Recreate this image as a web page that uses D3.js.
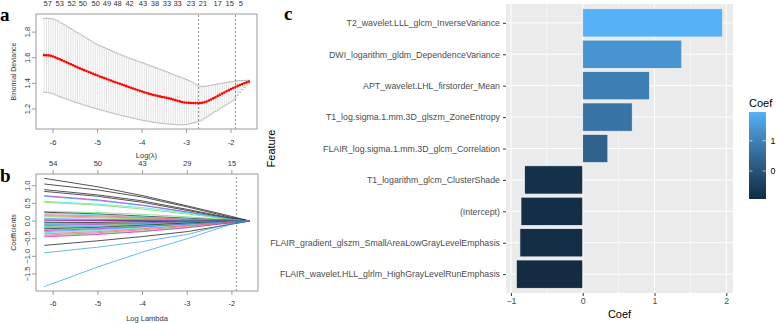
<!DOCTYPE html>
<html>
<head>
<meta charset="utf-8">
<script src="https://cdn.jsdelivr.net/npm/d3@7"></script>
<style>
  body { margin: 0; background: #fff; }
  svg { display: block; font-family: "Liberation Sans", Arial, sans-serif; }
</style>
</head>
<body>
<div id="chart"></div>
<script>
// ---- panel a : cross-validation curve ----
var logLambdaA = [-6.20, -6.15, -6.10, -6.05, -6.00, -5.95, -5.90, -5.85, -5.80, -5.75,
  -5.70, -5.65, -5.60, -5.55, -5.50, -5.45, -5.40, -5.35, -5.30, -5.25,
  -5.20, -5.15, -5.10, -5.05, -5.00, -4.95, -4.90, -4.85, -4.80, -4.75,
  -4.70, -4.65, -4.60, -4.55, -4.50, -4.45, -4.40, -4.35, -4.30, -4.25,
  -4.20, -4.15, -4.10, -4.05, -4.00, -3.95, -3.90, -3.85, -3.80, -3.75,
  -3.70, -3.65, -3.60, -3.55, -3.50, -3.45, -3.40, -3.35, -3.30, -3.25,
  -3.20, -3.15, -3.10, -3.05, -3.00, -2.95, -2.90, -2.85, -2.80, -2.75,
  -2.70, -2.65, -2.60, -2.55, -2.50, -2.45, -2.40, -2.35, -2.30, -2.25,
  -2.20, -2.15, -2.10, -2.05, -2.00, -1.95, -1.90, -1.85, -1.80, -1.75,
  -1.70, -1.65, -1.60];
var cvMean = [1.620, 1.620, 1.618, 1.615, 1.610, 1.603, 1.595, 1.588, 1.580, 1.572,
  1.565, 1.557, 1.549, 1.541, 1.533, 1.525, 1.518, 1.510, 1.503, 1.496,
  1.489, 1.482, 1.475, 1.468, 1.461, 1.454, 1.448, 1.441, 1.435, 1.428,
  1.422, 1.415, 1.409, 1.403, 1.397, 1.391, 1.385, 1.378, 1.372, 1.366,
  1.360, 1.354, 1.348, 1.342, 1.336, 1.330, 1.325, 1.320, 1.315, 1.310,
  1.306, 1.302, 1.298, 1.294, 1.291, 1.287, 1.283, 1.279, 1.274, 1.269,
  1.264, 1.259, 1.254, 1.251, 1.249, 1.248, 1.247, 1.247, 1.246, 1.246,
  1.246, 1.248, 1.252, 1.258, 1.266, 1.274, 1.283, 1.292, 1.302, 1.311,
  1.320, 1.329, 1.338, 1.347, 1.356, 1.364, 1.372, 1.380, 1.387, 1.394,
  1.401, 1.408, 1.415];
var cvUpper = [1.908, 1.908, 1.907, 1.905, 1.903, 1.896, 1.888, 1.878, 1.868, 1.858,
  1.848, 1.838, 1.827, 1.817, 1.806, 1.796, 1.785, 1.775, 1.764, 1.754,
  1.743, 1.733, 1.722, 1.712, 1.702, 1.694, 1.686, 1.679, 1.671, 1.664,
  1.656, 1.649, 1.641, 1.634, 1.627, 1.620, 1.613, 1.606, 1.599, 1.592,
  1.586, 1.580, 1.574, 1.568, 1.562, 1.556, 1.549, 1.543, 1.536, 1.530,
  1.523, 1.517, 1.510, 1.504, 1.497, 1.491, 1.484, 1.477, 1.470, 1.463,
  1.456, 1.450, 1.443, 1.437, 1.430, 1.422, 1.414, 1.405, 1.395, 1.386,
  1.378, 1.376, 1.376, 1.378, 1.381, 1.384, 1.388, 1.392, 1.395, 1.398,
  1.401, 1.404, 1.407, 1.410, 1.412, 1.415, 1.418, 1.420, 1.421, 1.422,
  1.423, 1.424, 1.425];
var cvLower = [1.331, 1.330, 1.327, 1.323, 1.318, 1.310, 1.303, 1.296, 1.290, 1.283,
  1.277, 1.271, 1.265, 1.259, 1.253, 1.247, 1.242, 1.236, 1.230, 1.225,
  1.220, 1.214, 1.209, 1.204, 1.199, 1.194, 1.190, 1.185, 1.180, 1.175,
  1.171, 1.166, 1.162, 1.157, 1.153, 1.148, 1.144, 1.140, 1.136, 1.132,
  1.128, 1.124, 1.120, 1.116, 1.112, 1.109, 1.106, 1.103, 1.100, 1.097,
  1.095, 1.092, 1.090, 1.088, 1.086, 1.084, 1.083, 1.081, 1.080, 1.079,
  1.078, 1.077, 1.077, 1.078, 1.079, 1.082, 1.086, 1.090, 1.095, 1.100,
  1.106, 1.114, 1.124, 1.135, 1.146, 1.158, 1.169, 1.180, 1.190, 1.201,
  1.212, 1.223, 1.234, 1.245, 1.255, 1.268, 1.285, 1.307, 1.330, 1.351,
  1.370, 1.385, 1.398];
var nzeroPos = [-6.12, -5.85, -5.58, -5.33, -5.04, -4.79, -4.55, -4.28, -3.98, -3.71, -3.44, -3.2, -2.9, -2.63, -2.3, -2.03, -1.78];
var nzeroLabels = ["57", "53", "52", "50", "50", "49", "48", "42", "43", "38", "33", "33", "23", "21", "17", "15", "5"];
var lambdaMin = -2.73;
var lambda1se = -1.9;

// ---- panel b : coefficient paths ----
var pathLambda = [-6.2, -5, -4, -3, -2, -1.6];
var coefPaths = [
  [1.21, 0.97, 0.72, 0.43, 0.13, 0],
  [1.05, 0.88, 0.68, 0.40, 0.10, 0],
  [0.89, 0.74, 0.57, 0.33, 0.08, 0],
  [0.84, 0.70, 0.53, 0.30, 0.06, 0],
  [0.72, 0.60, 0.45, 0.26, 0.05, 0],
  [0.70, 0.58, 0.44, 0.25, 0.05, 0],
  [0.56, 0.48, 0.38, 0.23, 0.05, 0],
  [0.53, 0.45, 0.34, 0.20, 0.04, 0],
  [0.27, 0.24, 0.19, 0.12, 0.03, 0],
  [0.25, 0.20, 0.14, 0.08, 0.02, 0],
  [0.22, 0.18, 0.12, 0.06, 0.01, 0],
  [0.18, 0.15, 0.10, 0.05, 0.01, 0],
  [0.15, 0.12, 0.08, 0.04, 0.01, 0],
  [0.12, 0.09, 0.06, 0.03, 0, 0],
  [0.07, 0.05, 0.03, 0.01, 0, 0],
  [0.03, 0.02, 0.01, 0, 0, 0],
  [0.0, 0.02, 0.03, 0.02, 0, 0],
  [-0.03, -0.02, -0.01, 0, 0, 0],
  [-0.05, -0.04, -0.02, -0.01, 0, 0],
  [-0.08, -0.07, -0.05, -0.02, 0, 0],
  [-0.10, -0.08, -0.05, -0.02, 0, 0],
  [-0.13, -0.10, -0.07, -0.03, -0.01, 0],
  [-0.16, -0.12, -0.08, -0.04, -0.01, 0],
  [-0.18, -0.15, -0.10, -0.05, -0.01, 0],
  [-0.20, -0.16, -0.11, -0.06, -0.01, 0],
  [-0.22, -0.18, -0.12, -0.06, -0.01, 0],
  [-0.25, -0.20, -0.14, -0.08, -0.02, 0],
  [-0.27, -0.22, -0.16, -0.09, -0.02, 0],
  [-0.30, -0.24, -0.17, -0.09, -0.02, 0],
  [-0.33, -0.27, -0.20, -0.12, -0.03, 0],
  [-0.36, -0.30, -0.22, -0.13, -0.03, 0],
  [-0.40, -0.33, -0.25, -0.15, -0.04, 0],
  [-0.42, -0.36, -0.28, -0.18, -0.05, 0],
  [-0.45, -0.38, -0.30, -0.19, -0.05, 0],
  [-0.69, -0.56, -0.44, -0.30, -0.09, 0],
  [-0.90, -0.74, -0.58, -0.38, -0.06, 0],
  [-1.86, -1.30, -0.88, -0.50, -0.08, 0]
];
var pathColors = ["#000000", "#000000", "#000000", "#000000", "#CD0BBC", "#2297E6", "#28E2E5", "#61D04F",
  "#61D04F", "#000000", "#28E2E5", "#DF536B", "#DF536B", "#61D04F", "#2297E6", "#000000", "#CD0BBC",
  "#28E2E5", "#000000", "#DF536B", "#2297E6", "#CD0BBC", "#61D04F", "#2297E6", "#28E2E5", "#000000",
  "#61D04F", "#CD0BBC", "#2297E6", "#28E2E5", "#DF536B", "#DF536B", "#61D04F", "#CD0BBC", "#000000",
  "#2297E6", "#2297E6"];
var dfTicks = [-6, -5, -4, -3, -2];
var dfLabels = ["54", "50", "43", "29", "15"];

// ---- panel c : selected features ----
var features = ["T2_wavelet.LLL_glcm_InverseVariance", "DWI_logarithm_gldm_DependenceVariance",
  "APT_wavelet.LHL_firstorder_Mean", "T1_log.sigma.1.mm.3D_glszm_ZoneEntropy",
  "FLAIR_log.sigma.1.mm.3D_glcm_Correlation", "T1_logarithm_glcm_ClusterShade", "(Intercept)",
  "FLAIR_gradient_glszm_SmallAreaLowGrayLevelEmphasis", "FLAIR_wavelet.HLL_glrlm_HighGrayLevelRunEmphasis"];
var coefs = [1.95, 1.38, 0.93, 0.69, 0.35, -0.81, -0.86, -0.875, -0.925];

var svg = d3.select("#chart").append("svg")
  .attr("width", 777)
  .attr("height", 323);

var boxCol = "#9a9a9a", txtCol = "#333";

// R style panel helpers
function rBox(x, y) {
  svg.append("rect")
    .attr("x", x.range()[0]).attr("y", y.range()[1])
    .attr("width", x.range()[1] - x.range()[0])
    .attr("height", y.range()[0] - y.range()[1])
    .attr("fill", "none").attr("stroke", boxCol).attr("stroke-width", 1);
}
function rBottomAxis(x, y, ticks, labelY) {
  var b = y.range()[0];
  ticks.forEach(function(t) {
    svg.append("line").attr("x1", x(t)).attr("x2", x(t)).attr("y1", b).attr("y2", b + 4)
      .attr("stroke", boxCol);
    svg.append("text").attr("x", x(t)).attr("y", labelY).attr("text-anchor", "middle")
      .attr("font-size", 7.5).attr("fill", txtCol).text(t);
  });
}
function rLeftAxis(x, y, ticks, fmt) {
  var l = x.range()[0];
  ticks.forEach(function(t) {
    svg.append("line").attr("x1", l - 4).attr("x2", l).attr("y1", y(t)).attr("y2", y(t))
      .attr("stroke", boxCol);
    svg.append("text").attr("transform", "translate(30," + y(t) + ") rotate(-90)")
      .attr("text-anchor", "middle").attr("font-size", 7.5).attr("fill", txtCol).text(fmt(t));
  });
}
function padExtent(vals) {
  var e = d3.extent(vals), p = (e[1] - e[0]) * 0.04;
  return [e[0] - p, e[1] + p];
}

// ================= panel a =================
var xA = d3.scaleLinear().domain(padExtent(logLambdaA)).range([36, 257]);
var yA = d3.scaleLinear().domain(padExtent(cvLower.concat(cvUpper))).range([129, 14]);

var gA = svg.append("g");
logLambdaA.forEach(function(l, i) {
  gA.append("line").attr("x1", xA(l)).attr("x2", xA(l))
    .attr("y1", yA(cvLower[i])).attr("y2", yA(cvUpper[i]))
    .attr("stroke", "#cfcfcf").attr("stroke-width", 0.6);
  [cvLower[i], cvUpper[i]].forEach(function(v) {
    gA.append("line").attr("x1", xA(l) - 1.3).attr("x2", xA(l) + 1.3)
      .attr("y1", yA(v)).attr("y2", yA(v))
      .attr("stroke", "#b5b5b5").attr("stroke-width", 0.9);
  });
});
gA.selectAll("circle").data(logLambdaA).enter().append("circle")
  .attr("cx", function(d) { return xA(d); })
  .attr("cy", function(d, i) { return yA(cvMean[i]); })
  .attr("r", 1.3).attr("fill", "#ff0000");
[lambdaMin, lambda1se].forEach(function(l) {
  gA.append("line").attr("x1", xA(l)).attr("x2", xA(l))
    .attr("y1", yA.range()[0]).attr("y2", yA.range()[1])
    .attr("stroke", "#444").attr("stroke-width", 0.6).attr("stroke-dasharray", "2,2");
});
rBox(xA, yA);
rBottomAxis(xA, yA, [-6, -5, -4, -3, -2], 145);
rLeftAxis(xA, yA, [1.2, 1.4, 1.6, 1.8], d3.format(".1f"));
nzeroPos.forEach(function(p, i) {
  svg.append("text").attr("x", xA(p)).attr("y", 6).attr("text-anchor", "middle")
    .attr("font-size", 7.5).attr("fill", txtCol).text(nzeroLabels[i]);
});
svg.append("text").attr("x", 146.5).attr("y", 157.5).attr("text-anchor", "middle")
  .attr("font-size", 7.5).attr("fill", txtCol).text("Log(\u03BB)");
svg.append("text").attr("transform", "translate(15.5,71.5) rotate(-90)").attr("text-anchor", "middle")
  .attr("font-size", 7).attr("fill", txtCol).text("Binomial Deviance");

// ================= panel b =================
var xB = d3.scaleLinear().domain(padExtent(pathLambda)).range([36, 258]);
var yB = d3.scaleLinear().domain(padExtent(d3.merge(coefPaths))).range([291, 174]);
var lineB = d3.line()
  .x(function(d, i) { return xB(pathLambda[i]); })
  .y(function(d) { return yB(d); });
svg.append("g").selectAll("path").data(coefPaths).enter().append("path")
  .attr("d", lineB)
  .attr("fill", "none")
  .attr("stroke", function(d, i) { return pathColors[i]; })
  .attr("stroke-width", 0.8)
  .attr("stroke-opacity", 0.85);
svg.append("line").attr("x1", xB(lambda1se)).attr("x2", xB(lambda1se))
  .attr("y1", yB.range()[0]).attr("y2", yB.range()[1])
  .attr("stroke", "#444").attr("stroke-width", 0.6).attr("stroke-dasharray", "2,2");
rBox(xB, yB);
rBottomAxis(xB, yB, [-6, -5, -4, -3, -2], 306);
rLeftAxis(xB, yB, [-1.5, -1.0, -0.5, 0.0, 0.5, 1.0], d3.format(".1f"));
dfTicks.forEach(function(t, i) {
  svg.append("line").attr("x1", xB(t)).attr("x2", xB(t)).attr("y1", 174).attr("y2", 170)
    .attr("stroke", boxCol);
  svg.append("text").attr("x", xB(t)).attr("y", 166).attr("text-anchor", "middle")
    .attr("font-size", 7.5).attr("fill", txtCol).text(dfLabels[i]);
});
svg.append("text").attr("x", 147).attr("y", 320.5).attr("text-anchor", "middle")
  .attr("font-size", 7.5).attr("fill", txtCol).text("Log Lambda");
svg.append("text").attr("transform", "translate(15.5,232.5) rotate(-90)").attr("text-anchor", "middle")
  .attr("font-size", 7).attr("fill", txtCol).text("Coefficients");

// ================= panel c =================
var lo = Math.min(0, d3.min(coefs)), hi = Math.max(0, d3.max(coefs));
var ex = (hi - lo) * 0.05;
var xC = d3.scaleLinear().domain([lo - ex, hi + ex]).range([506, 733]);
var yC = d3.scalePoint().domain(features).range([4, 293]).padding(0.6);
var bh = yC.step() * 0.9;
var fillC = d3.scaleLinear().domain(d3.extent(coefs)).range(["#132B43", "#56B1F7"])
  .interpolate(d3.interpolateLab);

var gC = svg.append("g");
gC.append("rect").attr("x", 506).attr("y", 4).attr("width", 227).attr("height", 289).attr("fill", "#EBEBEB");
[-0.5, 0.5, 1.5].forEach(function(t) {
  gC.append("line").attr("x1", xC(t)).attr("x2", xC(t)).attr("y1", 4).attr("y2", 293)
    .attr("stroke", "#fff").attr("stroke-width", 0.5);
});
[-1, 0, 1, 2].forEach(function(t) {
  gC.append("line").attr("x1", xC(t)).attr("x2", xC(t)).attr("y1", 4).attr("y2", 293)
    .attr("stroke", "#fff").attr("stroke-width", 1);
});
features.forEach(function(f) {
  gC.append("line").attr("x1", 506).attr("x2", 733).attr("y1", yC(f)).attr("y2", yC(f))
    .attr("stroke", "#fff").attr("stroke-width", 1);
});
gC.selectAll("rect.bar").data(coefs).enter().append("rect")
  .attr("class", "bar")
  .attr("x", function(d) { return xC(Math.min(0, d)); })
  .attr("y", function(d, i) { return yC(features[i]) - bh / 2; })
  .attr("width", function(d) { return Math.abs(xC(d) - xC(0)); })
  .attr("height", bh)
  .attr("fill", function(d) { return fillC(d); })
  .attr("stroke", "#f4f4f4").attr("stroke-width", 0.7);

var axL = svg.append("g").attr("transform", "translate(506,0)")
  .call(d3.axisLeft(yC).tickSize(3).tickPadding(3));
axL.select(".domain").remove();
axL.selectAll("line").attr("stroke", "#333");
axL.selectAll("text").attr("font-size", 8.8).attr("fill", "#4D4D4D")
  .attr("font-family", "Liberation Sans, Arial, sans-serif");

var axB = svg.append("g").attr("transform", "translate(0,293)")
  .call(d3.axisBottom(xC).tickValues([-1, 0, 1, 2]).tickSize(3).tickPadding(2).tickFormat(d3.format("d")));
axB.select(".domain").remove();
axB.selectAll("line").attr("stroke", "#333");
axB.selectAll("text").attr("font-size", 8.8).attr("fill", "#4D4D4D")
  .attr("font-family", "Liberation Sans, Arial, sans-serif");

svg.append("text").attr("x", 619.5).attr("y", 317.5).attr("text-anchor", "middle")
  .attr("font-size", 11).attr("fill", "#000").text("Coef");
svg.append("text").attr("transform", "translate(275,148.5) rotate(-90)").attr("text-anchor", "middle")
  .attr("font-size", 11).attr("fill", "#000").text("Feature");

// legend colourbar
var legY = d3.scaleLinear().domain(d3.extent(coefs)).range([199, 112]);
var defs = svg.append("defs");
var grad = defs.append("linearGradient").attr("id", "coefGrad")
  .attr("x1", 0).attr("y1", 1).attr("x2", 0).attr("y2", 0);
d3.range(0, 1.0001, 0.1).forEach(function(s) {
  var v = legY.domain()[0] + s * (legY.domain()[1] - legY.domain()[0]);
  grad.append("stop").attr("offset", s).attr("stop-color", fillC(v));
});
svg.append("rect").attr("x", 749).attr("y", 112).attr("width", 17).attr("height", 87)
  .attr("fill", "url(#coefGrad)");
[0, 1].forEach(function(t) {
  svg.append("line").attr("x1", 749).attr("x2", 752.5).attr("y1", legY(t)).attr("y2", legY(t))
    .attr("stroke", "#fff").attr("stroke-width", 0.6);
  svg.append("line").attr("x1", 762.5).attr("x2", 766).attr("y1", legY(t)).attr("y2", legY(t))
    .attr("stroke", "#fff").attr("stroke-width", 0.6);
  svg.append("text").attr("x", 770.5).attr("y", legY(t) + 3).attr("font-size", 8.8)
    .attr("fill", "#000").text(t);
});
svg.append("text").attr("x", 749).attr("y", 107).attr("font-size", 11).attr("fill", "#000").text("Coef");

// panel letters
[["a", 0, 21], ["b", 0, 182], ["c", 284, 20]].forEach(function(p) {
  svg.append("text").attr("x", p[1]).attr("y", p[2])
    .attr("font-family", "Liberation Serif, Times New Roman, serif")
    .attr("font-weight", "bold").attr("font-size", 19).text(p[0]);
});
</script>
</body>
</html>
